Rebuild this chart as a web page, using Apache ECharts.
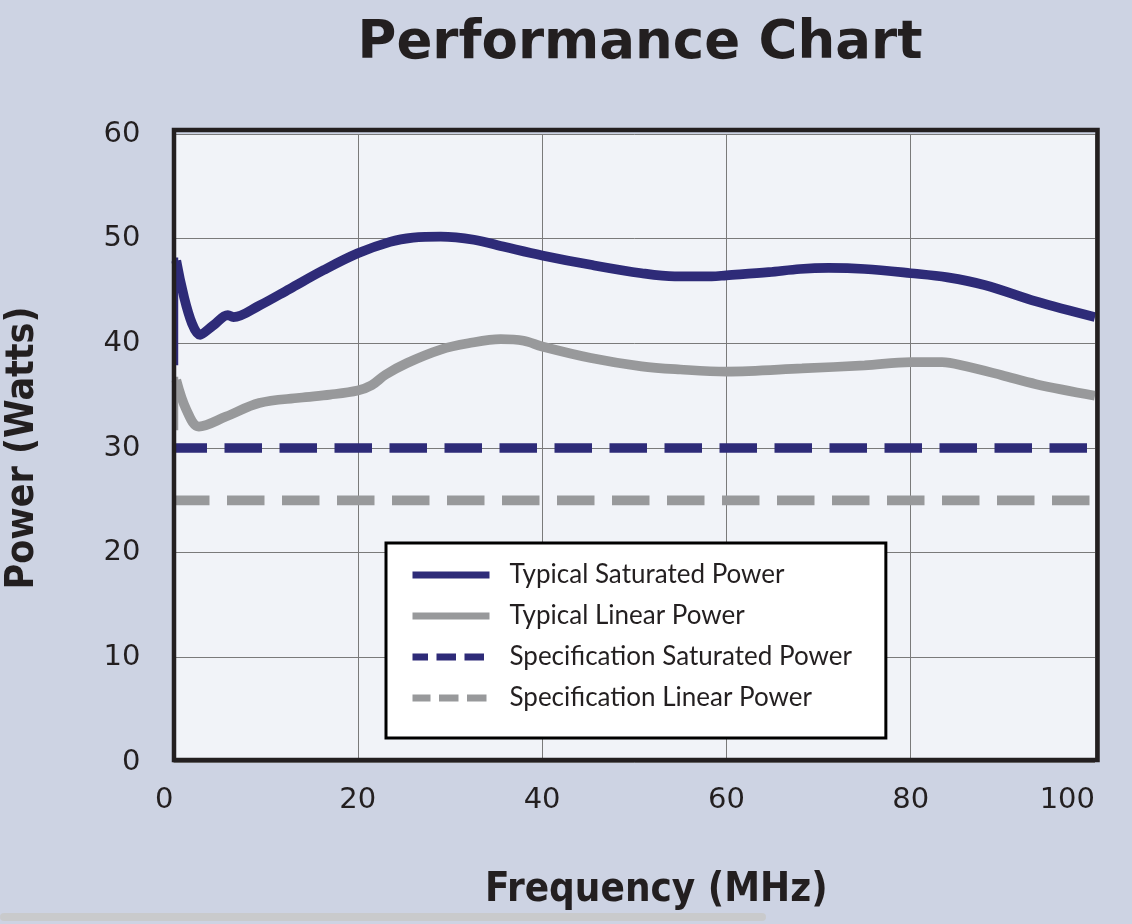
<!DOCTYPE html>
<html>
<head>
<meta charset="utf-8">
<script src="https://cdn.jsdelivr.net/npm/echarts@6/dist/echarts.min.js"></script>
<style>
  html, body { margin: 0; padding: 0; background: #cdd3e3; }
  #chart { width: 1132px; height: 924px; }
</style>
</head>
<body>
<div id="chart"></div>
<script>
// ---- Data ----
const titleText = 'Performance Chart';
const xAxisName = 'Frequency (MHz)';
const yAxisName = 'Power (Watts)';
const xRange = [0, 100];
const xStep = 20;
const yRange = [0, 60];
const yStep = 10;

const seriesNames = [
  'Typical Saturated Power',
  'Typical Linear Power',
  'Specification Saturated Power',
  'Specification Linear Power'
];

// Typical Saturated Power: [MHz, Watts]
const typicalSaturated = [
  [0.3, 47.9], [2.9, 40.8], [4.3, 41.7], [5.9, 42.7], [6.5, 42.5],
  [9.3, 43.6], [12.6, 45.2], [16.3, 47.0], [20, 48.6], [23.5, 49.7], [26, 50.1],
  [29, 50.2], [32.6, 49.9], [36, 49.2], [40, 48.4], [45.3, 47.5], [50.8, 46.7],
  [54.4, 46.4], [58.4, 46.4], [60, 46.5], [64.6, 46.8], [68, 47.1], [71.1, 47.2],
  [75, 47.1], [80, 46.7], [84, 46.3], [88.1, 45.55], [93.6, 44.0], [100, 42.5]
];
// Thin vertical start edge of the saturated trace
const typicalSaturatedEdge = [[0.35, 37.9], [0.35, 48.2]];

// Typical Linear Power: [MHz, Watts]
const typicalLinear = [
  [0.3, 36.5], [1.4, 33.65], [2.75, 32.05], [5.7, 33.0], [9.3, 34.3], [13.7, 34.8],
  [17, 35.1], [20, 35.5], [21.5, 36.0], [23, 37.0], [25.3, 38.1], [29, 39.4],
  [32, 40.0], [35.5, 40.4], [38, 40.25], [40, 39.7], [45.3, 38.6], [50.8, 37.8],
  [55, 37.5], [60, 37.3], [68.2, 37.6], [75, 37.9], [80, 38.2], [83.4, 38.2],
  [86, 37.8], [89.9, 36.95], [93.6, 36.1], [100, 35.0]
];
const typicalLinearEdge = [[0.35, 31.7], [0.35, 36.8]];

// Specification lines
const specSaturated = [[0, 30], [100, 30]];
const specLinear = [[0, 25], [100, 25]];

// ---- Styles ----
const navy = '#2e2b78';
const grey = '#98999b';
const ink = '#231f20';

const chart = echarts.init(document.getElementById('chart'));

chart.setOption({
  backgroundColor: '#cdd3e3',
  animation: false,
  title: {
    text: titleText,
    left: 640,
    top: 18,
    padding: 0,
    textAlign: 'center',
    textStyle: { fontFamily: 'DejaVu Sans', fontWeight: 'bold', fontSize: 53, color: ink }
  },
  grid: {
    left: 173.5, right: 37, top: 134, bottom: 162,
    containLabel: false, outerBoundsMode: 'none',
    show: true, backgroundColor: '#f1f3f8', borderWidth: 0
  },
  xAxis: {
    type: 'value', min: xRange[0], max: xRange[1], interval: xStep,
    name: xAxisName, nameLocation: 'middle', nameGap: 109,
    nameTextStyle: {
      fontFamily: 'DejaVu Sans Condensed', fontWeight: 'bold', fontSize: 40, color: ink,
      padding: [0, 0, 0, 44]
    },
    axisLine: { show: false }, axisTick: { show: false },
    axisLabel: {
      margin: 24, fontFamily: 'DejaVu Sans', fontSize: 29, color: ink,
      alignMinLabel: 'right', alignMaxLabel: 'right'
    },
    splitLine: { show: true, lineStyle: { color: '#7a7a7a', width: 1 } }
  },
  yAxis: {
    type: 'value', min: yRange[0], max: yRange[1], interval: yStep,
    name: yAxisName, nameLocation: 'middle', nameGap: 131,
    nameTextStyle: { fontFamily: 'DejaVu Sans Condensed', fontWeight: 'bold', fontSize: 39, color: ink },
    axisLine: { show: false }, axisTick: { show: false },
    axisLabel: { margin: 33, fontFamily: 'DejaVu Sans', fontSize: 29, color: ink },
    splitLine: { show: true, lineStyle: { color: '#7a7a7a', width: 1 } }
  },
  legend: {
    orient: 'vertical',
    left: 386, top: 543,
    backgroundColor: '#ffffff',
    borderColor: '#000000', borderWidth: 3,
    padding: [17, 34, 25, 23],
    itemWidth: 77, itemHeight: 7, itemGap: 11,
    textStyle: { fontFamily: 'Lato', fontSize: 26, color: ink, lineHeight: 30, padding: [0, 0, 0, 15] },
    data: [
      { name: seriesNames[0], lineStyle: { width: 7 } },
      { name: seriesNames[1], lineStyle: { width: 7 } },
      { name: seriesNames[2], lineStyle: { width: 7, type: [19.5, 8.5] } },
      { name: seriesNames[3], lineStyle: { width: 7, type: [19.5, 8.5] } }
    ]
  },
  graphic: [
    {
      type: 'rect', z: 100, silent: true,
      shape: { x: 174, y: 130, width: 923.5, height: 630 },
      style: { fill: 'none', stroke: ink, lineWidth: 4.5 }
    },
    {
      type: 'rect', z: 100, silent: true,
      shape: { x: 0, y: 913, width: 766, height: 8, r: 4 },
      style: { fill: '#c9cacc' }
    }
  ],
  series: [
    {
      name: seriesNames[3], type: 'line', data: specLinear, symbol: 'none', silent: true,
      lineStyle: { color: grey, width: 9.7, type: [37.5, 17.5], dashOffset: 1.5, cap: 'butt' },
      itemStyle: { color: grey }
    },
    {
      name: seriesNames[2], type: 'line', data: specSaturated, symbol: 'none', silent: true,
      lineStyle: { color: navy, width: 9.7, type: [37.5, 17.5], dashOffset: 4, cap: 'butt' },
      itemStyle: { color: navy }
    },
    {
      name: seriesNames[1], type: 'line', data: typicalLinear, symbol: 'none', smooth: 0.35, silent: true,
      lineStyle: { color: grey, width: 9.7 }, itemStyle: { color: grey }
    },
    {
      name: 'linear-edge', type: 'line', data: typicalLinearEdge, symbol: 'none', silent: true,
      lineStyle: { color: grey, width: 3 }, itemStyle: { color: grey }
    },
    {
      name: seriesNames[0], type: 'line', data: typicalSaturated, symbol: 'none', smooth: 0.35, silent: true,
      lineStyle: { color: navy, width: 9.7 }, itemStyle: { color: navy }
    },
    {
      name: 'saturated-edge', type: 'line', data: typicalSaturatedEdge, symbol: 'none', silent: true,
      lineStyle: { color: navy, width: 3 }, itemStyle: { color: navy }
    }
  ]
});
</script>
</body>
</html>
